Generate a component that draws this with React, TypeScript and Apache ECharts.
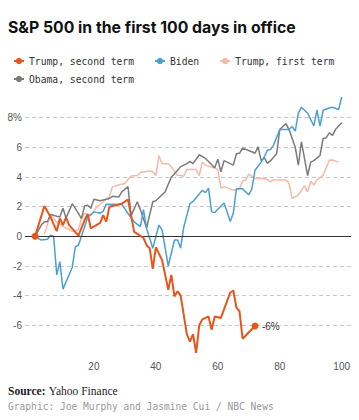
import React, { useEffect, useRef } from "react";
import * as echarts from "echarts";

const titleText = "S&P 500 in the first 100 days in office";
const sourceLabel = "Source:";
const sourceText = "Yahoo Finance";
const creditText = "Graphic: Joe Murphy and Jasmine Cui / NBC News";

const seriesNames = ["Trump, second term", "Biden", "Trump, first term", "Obama, second term"];

const xTicks = [20, 40, 60, 80, 100];
const yTicks = [-6, -4, -2, 0, 2, 4, 6, 8];

const trump2Days = [1, 4, 6, 8, 9, 10, 11, 12, 15, 17, 18, 19, 22, 23, 24, 25, 29, 31, 33, 36, 37, 38, 39, 40, 42, 43, 44, 45, 46, 47, 48, 50, 51, 52, 53, 54, 55, 57, 58, 59, 61, 64, 65, 66, 67, 68, 72];
const trump2Values = [0, 2.05, 1.3, 0.35, 1.2, 0.76, 1.27, 0.76, 0.05, 1.1, 1.5, 0.54, 0.9, 1.43, 0.98, 2.0, 2.2, 2.48, 0.3, -0.1, -0.6, -0.8, -2.2, -0.74, -1.6, -2.6, -3.6, -2.6, -4.05, -3.7, -4.0, -6.6, -7.1, -6.6, -7.85, -6.0, -5.6, -5.4, -6.3, -5.4, -5.5, -3.8, -3.65, -4.8, -5.05, -6.9, -6.05];

const bidenDays = [1, 3, 5, 6, 7, 8, 9, 10, 13, 14, 15, 17, 18, 20, 22, 23, 24, 29, 31, 33, 35, 36, 37, 39, 41, 42, 44, 46, 47, 48, 49, 51, 52, 55, 56, 57, 58, 59, 62, 63, 64, 65, 66, 68, 70, 71, 72, 74, 75, 76, 77, 78, 80, 83, 84, 85, 86, 87, 89, 91, 92, 93, 94, 96, 97, 99, 100];
const bidenValues = [0, -0.25, -0.2, 0.07, 0, -2.6, -1.7, -3.56, -2.1, -0.7, -0.6, 0.64, 1.3, 1.65, 1.55, 1.7, 2.17, 2.15, 1.54, 0.98, 0.65, 1.8, 0.55, -0.8, 0.76, 0.43, -2.0, -0.25, -0.25, -0.8, 0.62, 2.2, 2.35, 3.1, 2.95, 3.25, 1.65, 1.6, 2.25, 1.65, 1.0, 1.55, 3.2, 3.2, 2.8, 3.2, 4.45, 5.0, 5.35, 5.8, 5.85, 6.15, 7.2, 7.2, 7.4, 7.1, 8.3, 8.7, 8.3, 7.45, 8.5, 7.43, 8.5, 8.65, 8.7, 8.55, 9.4];

const trump1Days = [4, 6, 8, 11, 13, 15, 16, 17, 19, 21, 23, 25, 26, 28, 30, 32, 34, 35, 38, 39, 40, 41, 42, 44, 45, 47, 48, 49, 50, 53, 54, 55, 56, 59, 60, 61, 62, 65, 67, 68, 69, 70, 72, 75, 76, 77, 78, 82, 83, 84, 86, 88, 89, 90, 91, 92, 94, 96, 97, 99];
const trump1Values = [0.15, 1.45, 0.95, 0.56, 0.33, 0.45, 1.2, 1.55, 1.4, 2.0, 2.33, 2.67, 3.35, 3.46, 3.56, 4.07, 4.1, 4.3, 4.4, 4.35, 4.1, 5.45, 4.9, 4.9, 4.68, 4.1, 4.1, 4.05, 4.5, 4.5, 4.1, 5.0, 4.8, 4.6, 4.5, 3.25, 3.35, 3.1, 3.2, 3.73, 3.8, 4.2, 3.9, 3.9, 3.8, 3.67, 3.8, 3.8, 3.56, 2.55, 2.8, 3.4, 3.0, 3.7, 3.46, 3.8, 4.12, 5.13, 5.15, 5.0];

const obamaDays = [1, 3, 4, 5, 6, 8, 9, 10, 11, 13, 15, 16, 17, 18, 19, 20, 22, 24, 25, 26, 28, 29, 31, 32, 34, 35, 37, 39, 40, 41, 43, 45, 46, 48, 50, 51, 52, 54, 56, 57, 59, 60, 61, 62, 65, 66, 67, 68, 71, 72, 73, 74, 75, 76, 77, 79, 80, 82, 83, 85, 86, 87, 89, 90, 91, 93, 94, 95, 96, 97, 98, 100];
const obamaValues = [0, 0.76, 0.98, 0.98, 1.48, 1.35, 1.3, 1.9, 1.23, 2.2, 1.55, 1.2, 2.05, 2.1, 1.9, 2.5, 2.4, 2.5, 2.55, 2.7, 2.65, 3.0, 3.35, 1.38, 2.33, 1.8, 0.56, 2.33, 2.4, 2.6, 3.0, 4.0, 4.2, 4.7, 4.9, 5.05, 4.9, 5.5, 5.25, 5.05, 4.62, 5.2, 4.35, 5.1, 4.8, 5.57, 5.6, 5.95, 5.7, 5.6, 6.03, 5.1, 5.3, 4.92, 5.1, 5.57, 7.2, 7.6, 7.2, 6.0, 4.8, 6.37, 4.1, 5.0, 5.1, 5.45, 6.6, 6.65, 6.97, 6.8, 7.2, 7.65];

const endLabelText = "-6%";

const pairs = (d: number[], v: number[]) => d.map((x, i) => [x, v[i]]);

export default function App() {
  const ref = useRef<HTMLDivElement>(null);
  useEffect(() => {
    if (!ref.current) return;
    const chart = echarts.init(ref.current, null, { renderer: "svg" });
    const mono = "'DejaVu Sans Mono', monospace";
    const sans = "'Liberation Sans', Arial, sans-serif";
    const lastT2 = trump2Days.length - 1;
    const legendText = { fontFamily: mono, fontSize: 9.7, color: "#333" };
    chart.setOption({
      animation: false,
      grid: { left: 25, right: 8, top: 88, bottom: 65, containLabel: false },
      legend: [
        {
          data: [seriesNames[0], seriesNames[1], seriesNames[2]],
          left: 8,
          top: 51,
          itemWidth: 10,
          itemHeight: 8,
          itemGap: 20,
          textStyle: legendText,
          selectedMode: false,
        },
        {
          data: [seriesNames[3]],
          left: 8,
          top: 69,
          itemWidth: 10,
          itemHeight: 8,
          textStyle: legendText,
          selectedMode: false,
        },
      ],
      xAxis: {
        type: "value",
        min: -2.25,
        max: 103,
        minInterval: 20,
        maxInterval: 20,
        axisLine: { show: false },
        axisTick: { show: false },
        splitLine: { show: false },
        axisLabel: {
          showMinLabel: false,
          showMaxLabel: false,
          margin: 6,
          color: "#555",
          fontSize: 10,
          fontFamily: sans,
          formatter: (v: number) => (xTicks.includes(v) ? String(v) : ""),
        },
      },
      yAxis: {
        type: "value",
        min: -8,
        max: 10,
        interval: 2,
        axisLine: { show: false },
        axisTick: { show: false },
        splitLine: {
          show: true,
          showMinLine: false,
          showMaxLine: false,
          lineStyle: { color: "#c8c8c8", type: [4, 3], width: 1 },
        },
        axisLabel: {
          showMinLabel: false,
          showMaxLabel: false,
          margin: 3,
          color: "#555",
          fontSize: 10,
          fontFamily: sans,
          formatter: (v: number) => (v === 8 ? "8%" : yTicks.includes(v) ? String(v) : ""),
        },
      },
      series: [
        {
          name: seriesNames[2],
          type: "line",
          data: pairs(trump1Days, trump1Values),
          symbol: "none",
          lineStyle: { color: "#f5b9a5", width: 1.5 },
          itemStyle: { color: "#f5b9a5" },
          z: 2,
          markLine: {
            silent: true,
            symbol: ["none", "none"],
            label: { show: false },
            lineStyle: { color: "#333", width: 1.2, type: "solid" },
            data: [{ yAxis: 0 }],
          },
        },
        {
          name: seriesNames[3],
          type: "line",
          data: pairs(obamaDays, obamaValues),
          symbol: "none",
          lineStyle: { color: "#7b7b7b", width: 1.5 },
          itemStyle: { color: "#7b7b7b" },
          z: 3,
        },
        {
          name: seriesNames[1],
          type: "line",
          data: pairs(bidenDays, bidenValues),
          symbol: "none",
          lineStyle: { color: "#4b9fd5", width: 1.5 },
          itemStyle: { color: "#4b9fd5" },
          z: 4,
        },
        {
          name: seriesNames[0],
          type: "line",
          data: pairs(trump2Days, trump2Values),
          symbol: "circle",
          showSymbol: true,
          symbolSize: (_v: any, p: any) => (p.dataIndex === 0 || p.dataIndex === lastT2 ? 7 : 0),
          lineStyle: { color: "#e5561d", width: 2 },
          itemStyle: { color: "#e5561d" },
          z: 5,
          endLabel: {
            show: true,
            formatter: () => endLabelText,
            distance: 7,
            color: "#333",
            fontSize: 10,
            fontFamily: sans,
          },
        },
      ],
      graphic: [
        {
          type: "text",
          left: 8,
          top: 19,
          style: {
            text: titleText,
            font: "bold 15.8px Inter, 'Liberation Sans', sans-serif",
            fill: "#111",
          },
        },
        {
          type: "text",
          left: 8,
          top: 385,
          style: {
            text: `{b|${sourceLabel}} {r|${sourceText}}`,
            rich: {
              b: { fontFamily: "'Liberation Serif', serif", fontWeight: "bold", fontSize: 11.5, fill: "#222" },
              r: { fontFamily: "'Liberation Serif', serif", fontSize: 11.5, fill: "#222" },
            },
          },
        },
        {
          type: "text",
          left: 8,
          top: 401,
          style: {
            text: creditText,
            font: "9.6px 'DejaVu Sans Mono', monospace",
            fill: "#999",
          },
        },
      ],
    });
    return () => chart.dispose();
  }, []);
  return <div ref={ref} style={{ position: "absolute", left: 0, top: 0, width: 359, height: 420 }} />;
}
